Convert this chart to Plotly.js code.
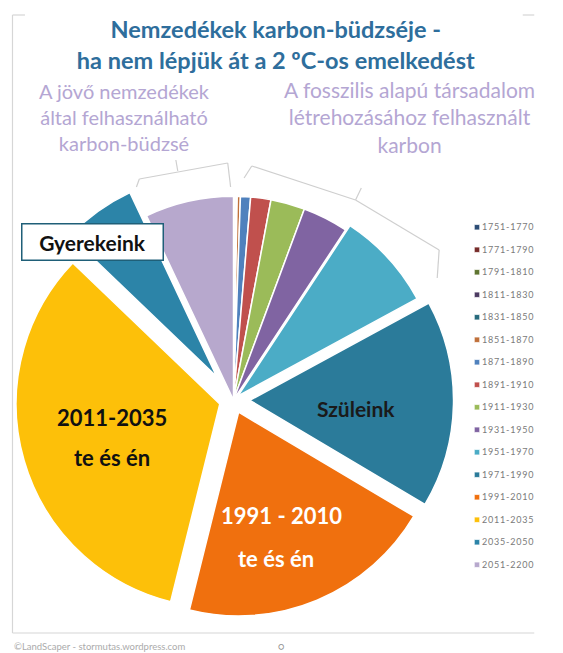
<!DOCTYPE html>
<html>
<head>
<meta charset="utf-8">
<script src="https://cdn.plot.ly/plotly-3.0.1.min.js"></script>
<style>
  html, body { margin: 0; padding: 0; background: #ffffff; }
  #chart { width: 563px; height: 653px; }
  .legend .legendtext { font-size: 9px !important; letter-spacing: 0.8px; transform: translateY(-3px); }
  .legend path.legendpie { transform: translate(35px, 0px) scale(0.45); }
</style>
</head>
<body>
<div id="chart"></div>
<script>
// ---- data ----
var periods = ["1751-1770","1771-1790","1791-1810","1811-1830","1831-1850","1851-1870",
               "1871-1890","1891-1910","1911-1930","1931-1950","1951-1970","1971-1990",
               "1991-2010","2011-2035","2035-2050","2051-2200"];
var carbonShare = [0.03, 0.04, 0.05, 0.07, 0.1, 0.25,
                   0.8, 1.6, 2.7, 3.6, 7.8, 16.4,
                   20.3, 33.2, 5.8, 7.0];
var sliceColors = ["#2C4D75","#772C2A","#5F7530","#4D3B62","#276A7C","#C0703A",
                   "#4F81BD","#C0504D","#9BBB59","#8064A2","#4BACC6","#2B7B9A",
                   "#F0700E","#FDC009","#2C84A8","#B7A8CD"];
var slicePull = [0,0,0,0,0,0, 0,0,0,0,0.03,0.08, 0.065,0.07,0.14,0];

var W = 563, H = 653;
function px(x){ return x / W; }
function py(y){ return 1 - y / H; }

var trace = {
  type: 'pie',
  labels: periods,
  values: carbonShare,
  sort: false,
  direction: 'clockwise',
  rotation: 0,
  pull: slicePull,
  marker: { colors: sliceColors, line: { color: '#ffffff', width: 1.5 } },
  textinfo: 'none',
  hoverinfo: 'none',
  domain: { x: [px(1.3), px(484.7)], y: [py(641.7), py(158.3)] },
  showlegend: true
};

var lineCol = '#CFCFCF';
function seg(x0,y0,x1,y1,c,w){
  return {type:'line', xref:'paper', yref:'paper', x0:px(x0), y0:py(y0), x1:px(x1), y1:py(y1),
          line:{color:c||lineCol, width:w||1.2}};
}

var shapes = [
  // frame
  seg(13,15,13,633,'#D6D6D6',1.2),
  seg(13,633,556,633,'#D6D6D6',1.2),
  seg(13,15,26,15,'#D6D6D6',1.2),
  seg(544,15,556,15,'#D6D6D6',1.2),
  // left bracket
  seg(142,187,145,179), seg(145,179,237,163), seg(237,163,240,187), seg(185,171,183,160),
  // right bracket
  seg(254,178,262,166), seg(262,166,370,200), seg(370,200,457,250), seg(457,250,455,278),
  seg(370,200,376,188)
];

var titleFont = 'Lato, "Open Sans", sans-serif';
var subCol = '#B4A6D3';
var annotations = [
  {text:'A jövő nemzedékek<br>által felhasználható<br>karbon-büdzsé', x:px(130), y:py(117),
   xref:'paper', yref:'paper', showarrow:false, xanchor:'center', yanchor:'middle',
   font:{family:titleFont, size:20, color:subCol}},
  {text:'A fosszilis alapú társadalom<br>létrehozásához felhasznált<br>karbon', x:px(426), y:py(117),
   xref:'paper', yref:'paper', showarrow:false, xanchor:'center', yanchor:'middle',
   font:{family:titleFont, size:21, color:subCol}},
  {text:'Gyerekeink', x:px(96), y:py(242), xref:'paper', yref:'paper', showarrow:false,
   xanchor:'center', yanchor:'middle', bgcolor:'#ffffff', bordercolor:'#1F5F78', borderwidth:1.5,
   borderpad:5, width:130,
   font:{family:titleFont, size:21, color:'#111111', weight:'bold'}},
  {text:'2011-2035', x:px(117), y:py(417), xref:'paper', yref:'paper', showarrow:false,
   xanchor:'center', yanchor:'middle', font:{family:titleFont, size:22, color:'#111111', weight:'bold'}},
  {text:'te és én', x:px(117), y:py(458), xref:'paper', yref:'paper', showarrow:false,
   xanchor:'center', yanchor:'middle', font:{family:titleFont, size:22, color:'#111111', weight:'bold'}},
  {text:'Szüleink', x:px(370), y:py(408), xref:'paper', yref:'paper', showarrow:false,
   xanchor:'center', yanchor:'middle', font:{family:titleFont, size:21, color:'#1a1a1a', weight:'bold'}},
  {text:'1991 - 2010', x:px(293), y:py(515), xref:'paper', yref:'paper', showarrow:false,
   xanchor:'center', yanchor:'middle', font:{family:titleFont, size:22, color:'#ffffff', weight:'bold'}},
  {text:'te és én', x:px(287), y:py(558), xref:'paper', yref:'paper', showarrow:false,
   xanchor:'center', yanchor:'middle', font:{family:titleFont, size:22, color:'#ffffff', weight:'bold'}},
  {text:'©LandScaper - stormutas.wordpress.com', x:px(12), y:py(646), xref:'paper', yref:'paper',
   showarrow:false, xanchor:'left', yanchor:'middle', font:{family:titleFont, size:9.5, color:'#ABABAB'}},
  {text:'○', x:px(293), y:py(646), xref:'paper', yref:'paper',
   showarrow:false, xanchor:'center', yanchor:'middle', font:{family:titleFont, size:10, color:'#909090'}}
];

var layout = {
  width: W, height: H,
  margin: {l:0, r:0, t:0, b:0},
  paper_bgcolor: '#ffffff',
  title: {
    text: 'Nemzedékek karbon-büdzséje -<br>ha nem lépjük át a 2 ºC-os emelkedést',
    font: {family: titleFont, size: 23.5, color: '#2E6E9C', weight: 'bold'},
    x: px(287), xanchor: 'center', xref: 'paper',
    y: py(38), yanchor: 'middle', yref: 'container'
  },
  showlegend: true,
  legend: {
    x: px(460), xanchor: 'left', y: py(211), yanchor: 'top',
    font: {family: titleFont, size: 15, color: '#7A7A7A'},
    bgcolor: 'rgba(0,0,0,0)', borderwidth: 0, traceorder: 'normal'
  },
  shapes: shapes,
  annotations: annotations
};

Plotly.newPlot('chart', [trace], layout, {displayModeBar: false, staticPlot: true});
</script>
</body>
</html>
